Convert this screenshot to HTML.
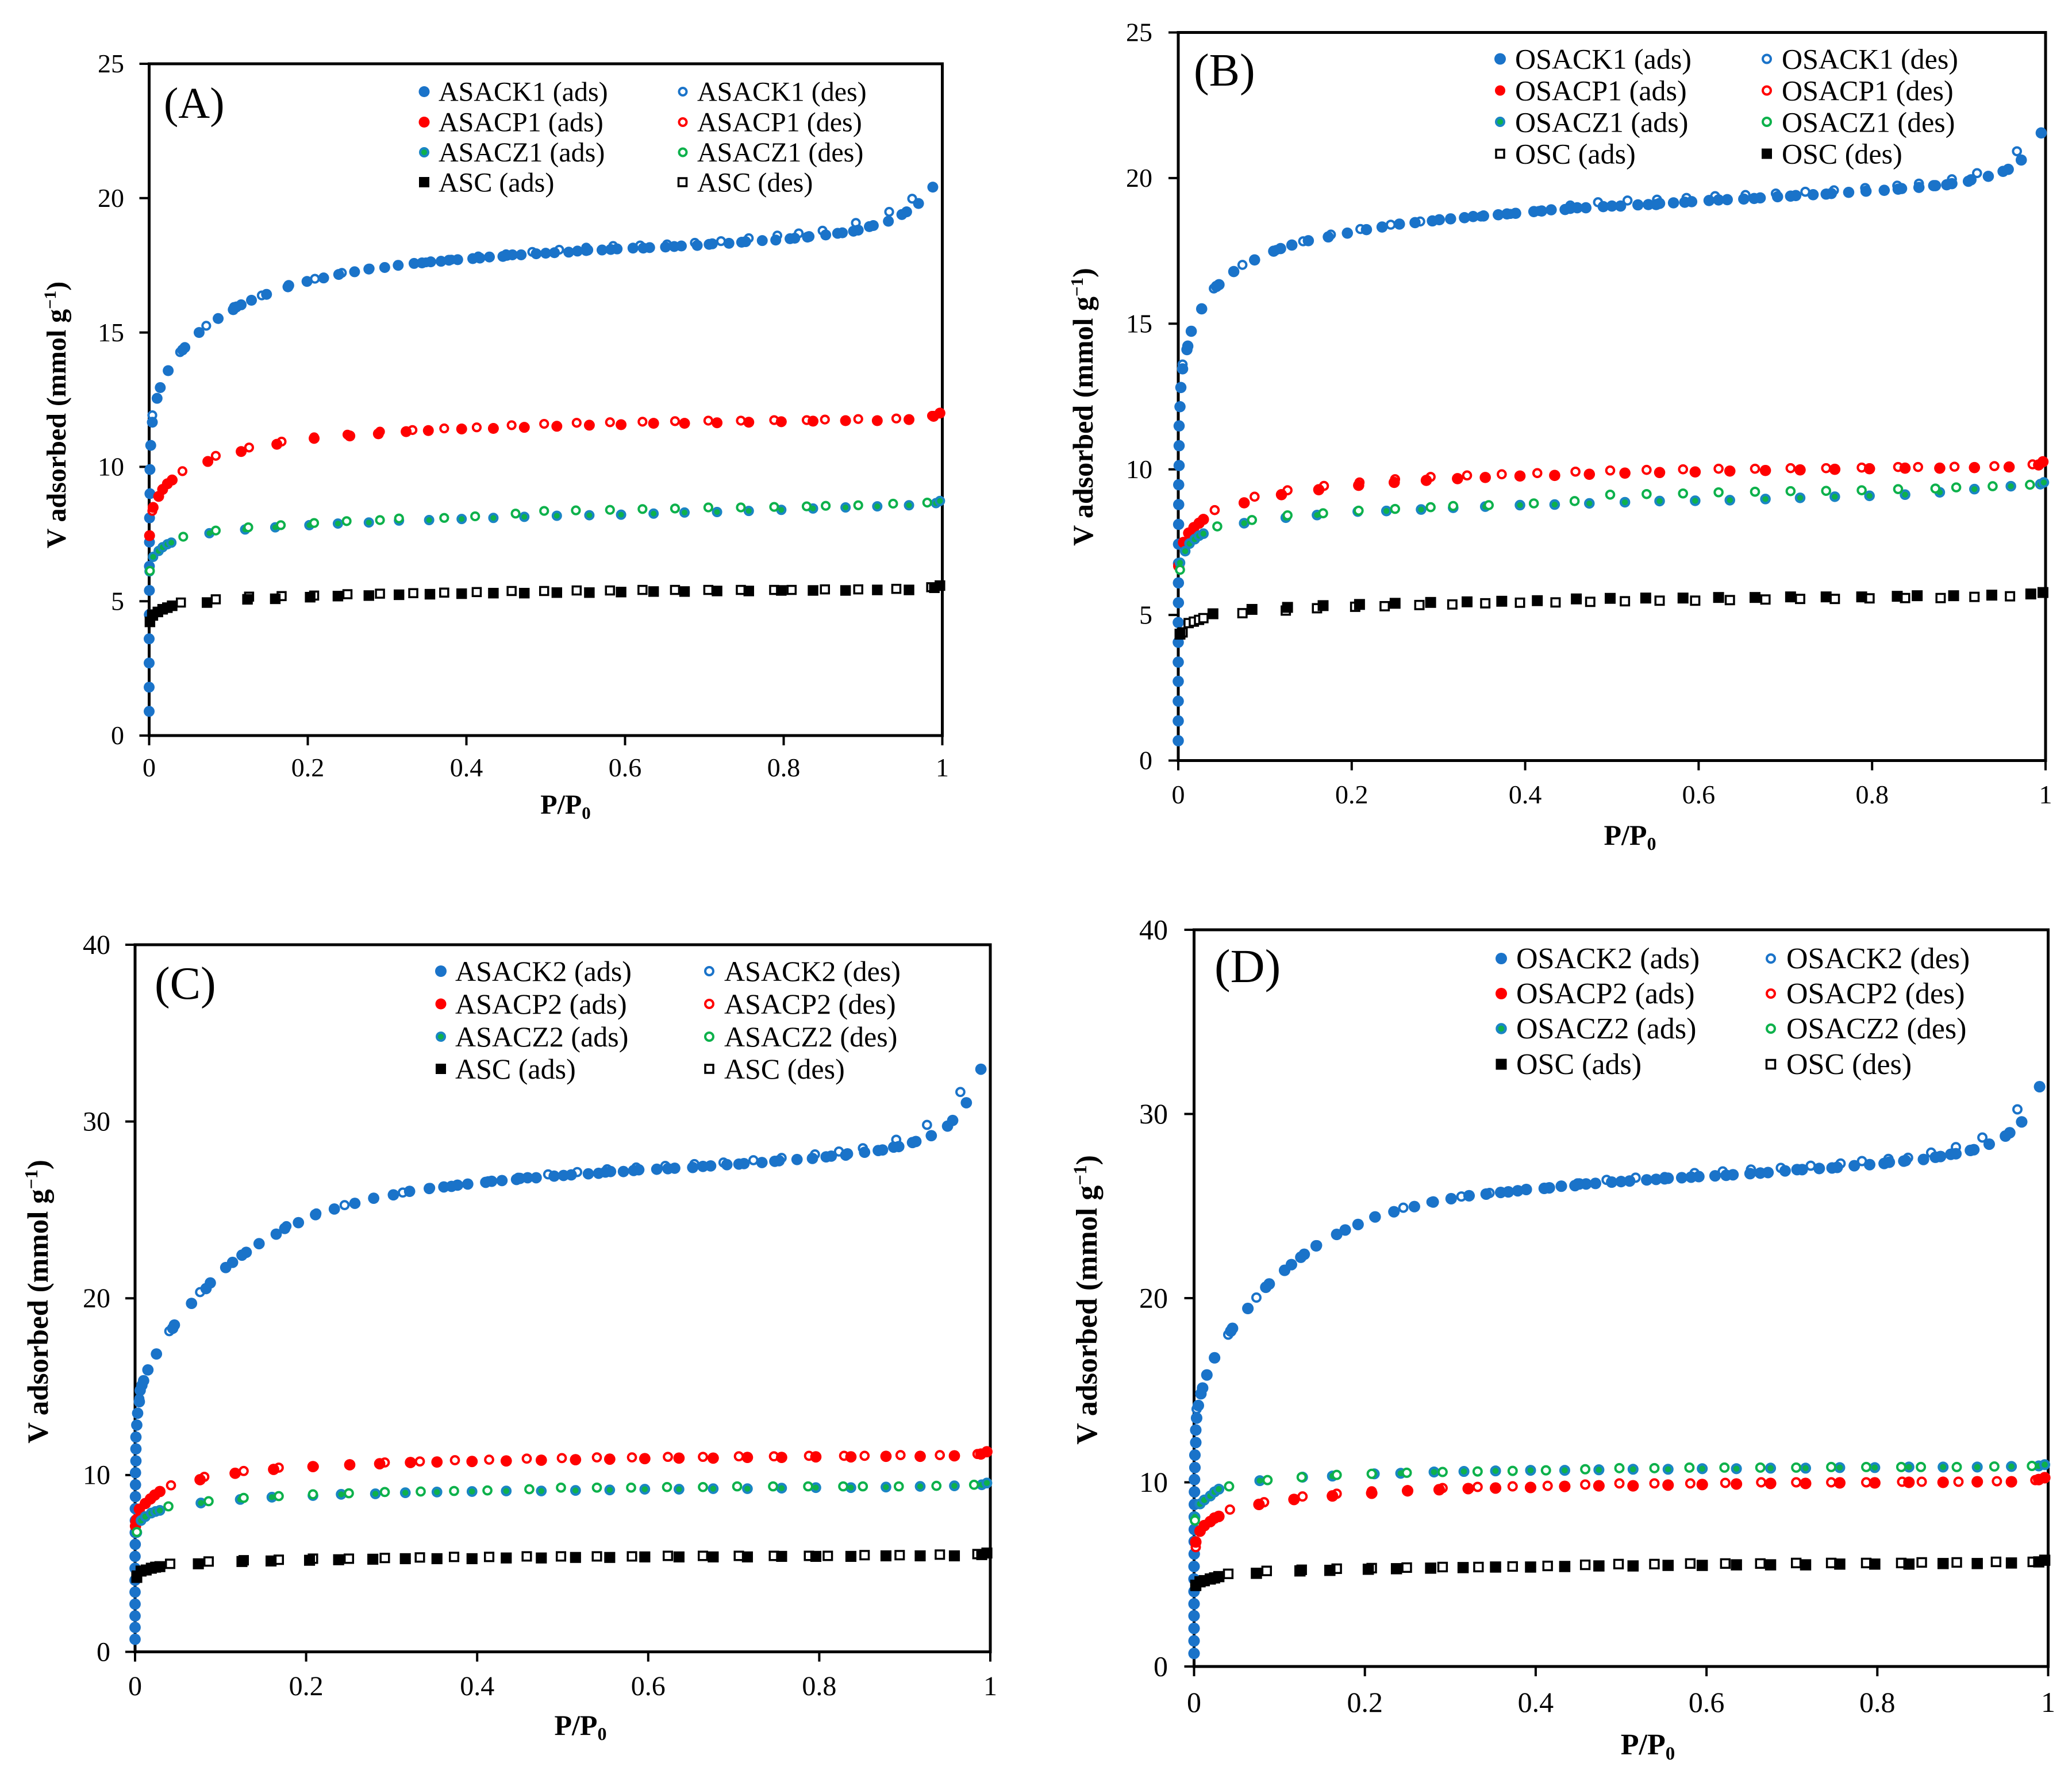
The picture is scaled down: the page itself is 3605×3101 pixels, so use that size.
<!DOCTYPE html>
<html lang="en">
<head>
<meta charset="utf-8">
<title>Nitrogen adsorption isotherms, panels A to D</title>
<style>
html,body{margin:0;padding:0;background:#fff}
svg{display:block}
text{font-family:"Liberation Serif",serif;fill:#000}
.ttl{font-weight:bold}
</style>
</head>
<body>
<svg id="figure" xmlns="http://www.w3.org/2000/svg" width="3605" height="3101" viewBox="0 0 3605 3101">
<rect x="0" y="0" width="3605" height="3101" fill="#fff"/>

<g id="panel-a">
<g id="marks-a"></g>
<text x="285" y="205" font-size="76">(A)</text>
<text class="ttl" font-size="48" text-anchor="middle" transform="translate(114 722) rotate(-90)">V adsorbed (mmol g<tspan font-size="30" dy="-17">−1</tspan><tspan dy="17">)</tspan></text>
<text class="ttl" font-size="48" text-anchor="middle" x="984" y="1416">P/P<tspan font-size="31" dy="9">0</tspan></text>
<g font-size="48">
<g><circle cx="738" cy="159.5" r="9.5" fill="#1a73c9"/><text x="763" y="175.5">ASACK1 (ads)</text></g>
<g><circle cx="1188" cy="159.5" r="6.5" fill="#fff" stroke="#1a73c9" stroke-width="4"/><text x="1213" y="175.5">ASACK1 (des)</text></g>
<g><circle cx="738" cy="212.5" r="9.5" fill="#ff0000"/><text x="763" y="228.5">ASACP1 (ads)</text></g>
<g><circle cx="1188" cy="212.5" r="6.5" fill="#fff" stroke="#ff0000" stroke-width="4"/><text x="1213" y="228.5">ASACP1 (des)</text></g>
<g><circle cx="738" cy="265" r="7" fill="#0db14b" stroke="#1a85c4" stroke-width="4"/><text x="763" y="281">ASACZ1 (ads)</text></g>
<g><circle cx="1188" cy="265" r="6.5" fill="#fff" stroke="#0db14b" stroke-width="4"/><text x="1213" y="281">ASACZ1 (des)</text></g>
<g><rect x="729" y="308" width="18" height="18" fill="#000"/><text x="763" y="333.5">ASC (ads)</text></g>
<g><rect x="1180.5" y="310" width="14" height="14" fill="#fff" stroke="#000" stroke-width="3.5"/><text x="1213" y="333.5">ASC (des)</text></g>
</g>
</g>

<g id="panel-b">
<g id="marks-b"></g>
<text x="2077" y="149" font-size="80">(B)</text>
<text class="ttl" font-size="50" text-anchor="middle" transform="translate(1901 708) rotate(-90)">V adsorbed (mmol g<tspan font-size="31" dy="-17">−1</tspan><tspan dy="17">)</tspan></text>
<text class="ttl" font-size="50" text-anchor="middle" x="2836" y="1470">P/P<tspan font-size="32" dy="9">0</tspan></text>
<g font-size="50">
<g><circle cx="2610" cy="102.5" r="10" fill="#1a73c9"/><text x="2636" y="119.5">OSACK1 (ads)</text></g>
<g><circle cx="3074" cy="102.5" r="7" fill="#fff" stroke="#1a73c9" stroke-width="4"/><text x="3100" y="119.5">OSACK1 (des)</text></g>
<g><circle cx="2610" cy="157.5" r="9" fill="#ff0000"/><text x="2636" y="174.5">OSACP1 (ads)</text></g>
<g><circle cx="3074" cy="157.5" r="7" fill="#fff" stroke="#ff0000" stroke-width="4"/><text x="3100" y="174.5">OSACP1 (des)</text></g>
<g><circle cx="2610" cy="212" r="7" fill="#0db14b" stroke="#1a85c4" stroke-width="4"/><text x="2636" y="229.5">OSACZ1 (ads)</text></g>
<g><circle cx="3074" cy="212" r="7" fill="#fff" stroke="#0db14b" stroke-width="4"/><text x="3100" y="229.5">OSACZ1 (des)</text></g>
<g><rect x="2603" y="260.5" width="14" height="14" fill="#fff" stroke="#000" stroke-width="3.5"/><text x="2636" y="284.5">OSC (ads)</text></g>
<g><rect x="3065" y="258.5" width="18" height="18" fill="#000"/><text x="3100" y="284.5">OSC (des)</text></g>
</g>
</g>

<g id="panel-c">
<g id="marks-c"></g>
<text x="269" y="1738" font-size="80">(C)</text>
<text class="ttl" font-size="51" text-anchor="middle" transform="translate(83 2265) rotate(-90)">V adsorbed (mmol g<tspan font-size="32" dy="-18">−1</tspan><tspan dy="18">)</tspan></text>
<text class="ttl" font-size="50" text-anchor="middle" x="1010" y="3019">P/P<tspan font-size="32" dy="9">0</tspan></text>
<g font-size="50">
<g><circle cx="767" cy="1690" r="10" fill="#1a73c9"/><text x="792" y="1707">ASACK2 (ads)</text></g>
<g><circle cx="1234" cy="1690" r="7" fill="#fff" stroke="#1a73c9" stroke-width="4"/><text x="1260" y="1707">ASACK2 (des)</text></g>
<g><circle cx="767" cy="1747" r="9.5" fill="#ff0000"/><text x="792" y="1764">ASACP2 (ads)</text></g>
<g><circle cx="1234" cy="1747" r="7" fill="#fff" stroke="#ff0000" stroke-width="4"/><text x="1260" y="1764">ASACP2 (des)</text></g>
<g><circle cx="767" cy="1804" r="7" fill="#0db14b" stroke="#1a85c4" stroke-width="4"/><text x="792" y="1821">ASACZ2 (ads)</text></g>
<g><circle cx="1234" cy="1804" r="7" fill="#fff" stroke="#0db14b" stroke-width="4"/><text x="1260" y="1821">ASACZ2 (des)</text></g>
<g><rect x="758" y="1851" width="18" height="18" fill="#000"/><text x="792" y="1877">ASC (ads)</text></g>
<g><rect x="1227" y="1853" width="14" height="14" fill="#fff" stroke="#000" stroke-width="3.5"/><text x="1260" y="1877">ASC (des)</text></g>
</g>
</g>

<g id="panel-d">
<g id="marks-d"></g>
<text x="2113" y="1709" font-size="83">(D)</text>
<text class="ttl" font-size="52" text-anchor="middle" transform="translate(1908 2262) rotate(-90)">V adsorbed (mmol g<tspan font-size="33" dy="-18">−1</tspan><tspan dy="18">)</tspan></text>
<text class="ttl" font-size="52" text-anchor="middle" x="2867" y="3053">P/P<tspan font-size="33" dy="9">0</tspan></text>
<g font-size="52">
<g><circle cx="2612" cy="1668" r="10" fill="#1a73c9"/><text x="2638" y="1685">OSACK2 (ads)</text></g>
<g><circle cx="3081" cy="1668" r="7" fill="#fff" stroke="#1a73c9" stroke-width="4"/><text x="3108" y="1685">OSACK2 (des)</text></g>
<g><circle cx="2612" cy="1729" r="10" fill="#ff0000"/><text x="2638" y="1746">OSACP2 (ads)</text></g>
<g><circle cx="3081" cy="1729" r="7" fill="#fff" stroke="#ff0000" stroke-width="4"/><text x="3108" y="1746">OSACP2 (des)</text></g>
<g><circle cx="2612" cy="1790" r="7.5" fill="#0db14b" stroke="#1a85c4" stroke-width="4.5"/><text x="2638" y="1807">OSACZ2 (ads)</text></g>
<g><circle cx="3081" cy="1790" r="7" fill="#fff" stroke="#0db14b" stroke-width="4"/><text x="3108" y="1807">OSACZ2 (des)</text></g>
<g><rect x="2602.5" y="1842.5" width="19" height="19" fill="#000"/><text x="2638" y="1869">OSC (ads)</text></g>
<g><rect x="3073.5" y="1844.5" width="15" height="15" fill="#fff" stroke="#000" stroke-width="3.5"/><text x="3108" y="1869">OSC (des)</text></g>
</g>
</g>
</svg>

<script>
// shared tick labels
const xTickValues = [0, 0.2, 0.4, 0.6, 0.8, 1];
const yTicks25 = [0, 5, 10, 15, 20, 25];
const yTicks40 = [0, 10, 20, 30, 40];

// ---------- Panel A ----------
const aCkAdsX = [0,0,0,0,0.0002,0.0003,0.0003,0.0004,0.0005,0.001,0.001,0.002,0.004,0.01,0.014,0.024,0.042,0.045,0.063,0.087,0.106,0.11,0.116,0.129,0.148,0.175,0.176,0.199,0.22,0.239,0.259,0.277,0.297,0.314,0.334,0.344,0.355,0.368,0.378,0.389,0.408,0.417,0.429,0.446,0.451,0.458,0.469,0.488,0.5,0.511,0.529,0.54,0.551,0.553,0.571,0.582,0.59,0.61,0.623,0.631,0.651,0.662,0.671,0.691,0.706,0.71,0.731,0.747,0.752,0.773,0.79,0.808,0.814,0.83,0.832,0.853,0.868,0.874,0.888,0.894,0.908,0.913,0.932,0.949,0.955,0.97,0.988];
const aCkAdsY = [0.9,1.8,2.7,3.6,4.5,5.4,6.3,7.2,8.1,9,9.9,10.8,11.66,12.55,12.95,13.58,14.35,14.44,15,15.52,15.85,15.95,16.03,16.2,16.42,16.7,16.75,16.9,17.03,17.16,17.26,17.36,17.42,17.5,17.57,17.59,17.63,17.65,17.69,17.71,17.75,17.77,17.81,17.83,17.87,17.89,17.89,17.93,17.95,17.97,17.99,18.03,18.05,18.07,18.07,18.09,18.11,18.14,18.14,18.16,18.18,18.2,18.22,18.24,18.28,18.3,18.32,18.36,18.38,18.42,18.44,18.49,18.51,18.55,18.57,18.63,18.69,18.71,18.77,18.81,18.94,18.98,19.14,19.39,19.49,19.8,20.41];
const aCkDesX = [0.962,0.933,0.891,0.849,0.819,0.792,0.756,0.721,0.688,0.653,0.619,0.585,0.551,0.517,0.483,0.45,0.415,0.381,0.349,0.314,0.278,0.243,0.209,0.176,0.142,0.107,0.072,0.039,0.004];
const aCkDesY = [19.98,19.49,19.08,18.79,18.69,18.61,18.51,18.4,18.34,18.28,18.24,18.22,18.16,18.08,18,17.91,17.83,17.71,17.61,17.5,17.38,17.22,17,16.75,16.38,15.95,15.25,14.27,11.92];
const aCpAdsX = [0.0005,0.005,0.012,0.017,0.023,0.029,0.074,0.116,0.161,0.208,0.253,0.289,0.324,0.352,0.394,0.434,0.473,0.514,0.555,0.595,0.636,0.675,0.716,0.756,0.797,0.837,0.878,0.918,0.958,0.989,0.997];
const aCpAdsY = [7.44,8.49,8.9,9.16,9.37,9.51,10.2,10.57,10.84,11.06,11.15,11.23,11.31,11.35,11.41,11.43,11.47,11.51,11.55,11.57,11.62,11.62,11.64,11.66,11.68,11.7,11.72,11.72,11.76,11.88,12];
const aCpDesX = [0.987,0.942,0.894,0.852,0.829,0.788,0.746,0.705,0.663,0.622,0.581,0.539,0.498,0.457,0.413,0.372,0.332,0.291,0.25,0.208,0.167,0.126,0.084,0.042,0.004];
const aCpDesY = [11.9,11.8,11.78,11.76,11.74,11.74,11.72,11.72,11.7,11.68,11.66,11.64,11.6,11.55,11.47,11.43,11.37,11.31,11.2,11.1,10.94,10.72,10.41,9.84,8.36];
const aCzAdsX = [0.0005,0.005,0.012,0.017,0.023,0.028,0.076,0.121,0.159,0.202,0.238,0.277,0.315,0.353,0.394,0.434,0.473,0.514,0.555,0.595,0.636,0.675,0.716,0.756,0.797,0.837,0.878,0.918,0.958,0.992,0.997];
const aCzAdsY = [6.11,6.65,6.87,7.01,7.12,7.18,7.53,7.67,7.75,7.83,7.89,7.93,8,8.02,8.06,8.1,8.14,8.18,8.2,8.22,8.26,8.3,8.32,8.36,8.4,8.45,8.49,8.53,8.57,8.65,8.73];
const aCzDesX = [0.981,0.938,0.894,0.853,0.829,0.788,0.746,0.705,0.663,0.622,0.581,0.538,0.498,0.462,0.411,0.372,0.315,0.291,0.249,0.208,0.166,0.125,0.084,0.043,0.001];
const aCzDesY = [8.67,8.63,8.57,8.55,8.53,8.51,8.49,8.49,8.45,8.43,8.4,8.38,8.36,8.26,8.16,8.1,8.08,8.02,7.98,7.91,7.83,7.75,7.63,7.4,6.13];
const aCAdsX = [0.001,0.004,0.011,0.017,0.023,0.029,0.073,0.124,0.159,0.203,0.238,0.277,0.315,0.354,0.394,0.434,0.473,0.514,0.555,0.595,0.636,0.675,0.716,0.756,0.797,0.837,0.878,0.918,0.958,0.99,0.997];
const aCAdsY = [4.23,4.5,4.6,4.7,4.76,4.83,4.95,5.07,5.09,5.15,5.19,5.21,5.24,5.26,5.28,5.3,5.3,5.32,5.32,5.34,5.36,5.36,5.38,5.38,5.4,5.4,5.4,5.42,5.42,5.5,5.58];
const aCDesX = [0.986,0.942,0.894,0.852,0.81,0.788,0.746,0.705,0.663,0.622,0.581,0.539,0.498,0.457,0.413,0.372,0.333,0.291,0.25,0.208,0.167,0.126,0.084,0.04,0.005];
const aCDesY = [5.52,5.46,5.44,5.44,5.42,5.42,5.42,5.42,5.42,5.42,5.4,5.4,5.38,5.38,5.34,5.32,5.3,5.28,5.26,5.21,5.19,5.17,5.07,4.95,4.46];

// ---------- Panel B ----------
const bCkAdsX = [0,0,0,0,0,0,0,0.0002,0.0002,0.0003,0.0003,0.0004,0.0005,0.0005,0.001,0.001,0.001,0.002,0.003,0.005,0.01,0.011,0.015,0.027,0.044,0.047,0.064,0.088,0.11,0.118,0.131,0.15,0.173,0.195,0.217,0.235,0.255,0.273,0.293,0.301,0.314,0.33,0.34,0.352,0.369,0.379,0.389,0.41,0.419,0.43,0.446,0.452,0.46,0.47,0.49,0.5,0.51,0.53,0.542,0.551,0.555,0.571,0.584,0.592,0.612,0.623,0.633,0.652,0.664,0.671,0.691,0.706,0.712,0.732,0.747,0.753,0.773,0.793,0.814,0.83,0.834,0.854,0.871,0.873,0.886,0.892,0.911,0.914,0.934,0.951,0.957,0.972,0.995];
const bCkAdsY = [0.68,1.36,2.04,2.72,3.38,4.06,4.74,5.42,6.1,6.77,7.43,8.11,8.79,9.47,10.13,10.81,11.49,12.15,12.81,13.45,14.11,14.23,14.74,15.51,16.28,16.34,16.79,17.19,17.49,17.58,17.7,17.85,17.98,18.11,18.23,18.32,18.42,18.47,18.53,18.57,18.6,18.64,18.68,18.7,18.74,18.77,18.79,18.85,18.87,18.91,18.92,18.96,18.98,18.98,19.02,19.04,19.04,19.08,19.09,19.09,19.13,19.15,19.17,19.19,19.23,19.25,19.26,19.28,19.3,19.32,19.36,19.38,19.4,19.43,19.45,19.47,19.51,19.55,19.58,19.62,19.64,19.68,19.74,19.74,19.77,19.81,19.89,19.94,20.06,20.23,20.3,20.62,21.55];
const bCkDesX = [0.967,0.921,0.892,0.854,0.829,0.792,0.756,0.723,0.689,0.654,0.619,0.586,0.552,0.518,0.484,0.452,0.416,0.383,0.349,0.314,0.279,0.245,0.21,0.176,0.144,0.113,0.074,0.041,0.005];
const bCkDesY = [20.92,20.17,19.96,19.81,19.74,19.66,19.58,19.53,19.47,19.42,19.38,19.32,19.26,19.23,19.17,19.06,18.87,18.77,18.68,18.6,18.51,18.4,18.25,18.06,17.83,17.53,17.02,16.21,13.6];
const bCpAdsX = [0.0005,0.006,0.012,0.018,0.024,0.029,0.076,0.119,0.162,0.208,0.249,0.286,0.322,0.354,0.394,0.434,0.474,0.515,0.555,0.596,0.636,0.677,0.717,0.757,0.797,0.838,0.878,0.918,0.958,0.992,0.997];
const bCpAdsY = [6.68,7.49,7.81,8,8.15,8.28,8.85,9.13,9.3,9.45,9.55,9.62,9.68,9.72,9.77,9.79,9.83,9.87,9.89,9.91,9.94,9.96,9.98,10,10.02,10.04,10.04,10.06,10.08,10.15,10.26];
const bCpDesX = [0.985,0.941,0.895,0.853,0.83,0.788,0.747,0.706,0.665,0.623,0.582,0.54,0.498,0.458,0.414,0.373,0.333,0.291,0.25,0.209,0.168,0.126,0.088,0.042,0.001];
const bCpDesY = [10.17,10.11,10.09,10.08,10.08,10.06,10.04,10.04,10.02,10.02,10,9.98,9.96,9.92,9.87,9.83,9.79,9.74,9.66,9.55,9.43,9.28,9.06,8.6,6.68];
const bCzAdsX = [0.002,0.008,0.013,0.019,0.024,0.029,0.076,0.124,0.16,0.207,0.24,0.28,0.317,0.354,0.394,0.434,0.474,0.515,0.555,0.596,0.636,0.677,0.717,0.757,0.797,0.838,0.878,0.918,0.96,0.994,0.998];
const bCzAdsY = [6.79,7.19,7.45,7.6,7.72,7.79,8.15,8.34,8.43,8.55,8.57,8.62,8.68,8.72,8.77,8.79,8.83,8.87,8.91,8.92,8.94,8.98,9.02,9.06,9.09,9.13,9.21,9.32,9.42,9.49,9.55];
const bCzDesX = [0.982,0.939,0.897,0.873,0.83,0.788,0.747,0.706,0.665,0.623,0.582,0.54,0.498,0.457,0.41,0.358,0.317,0.291,0.25,0.208,0.167,0.126,0.085,0.045,0.002];
const bCzDesY = [9.47,9.42,9.38,9.34,9.32,9.28,9.26,9.25,9.23,9.21,9.17,9.15,9.13,8.91,8.83,8.77,8.74,8.7,8.64,8.58,8.49,8.42,8.26,8.04,6.55];
const bCAdsX = [0.005,0.012,0.018,0.024,0.029,0.074,0.124,0.16,0.204,0.238,0.278,0.316,0.354,0.394,0.435,0.475,0.515,0.555,0.596,0.636,0.677,0.717,0.757,0.797,0.838,0.879,0.918,0.959];
const bCAdsY = [4.4,4.72,4.77,4.83,4.89,5.06,5.15,5.23,5.28,5.3,5.34,5.36,5.4,5.42,5.43,5.45,5.47,5.49,5.49,5.51,5.53,5.55,5.55,5.57,5.58,5.58,5.62,5.64];
const bCDesX = [0.997,0.983,0.938,0.894,0.852,0.829,0.788,0.747,0.706,0.665,0.623,0.582,0.539,0.498,0.459,0.414,0.373,0.333,0.291,0.25,0.209,0.167,0.126,0.085,0.04,0.002];
const bCDesY = [5.77,5.72,5.68,5.66,5.66,5.64,5.62,5.62,5.62,5.6,5.6,5.58,5.58,5.57,5.55,5.49,5.47,5.45,5.43,5.4,5.36,5.32,5.26,5.19,5.04,4.34];

// ---------- Panel C ----------
const cCkAdsX = [0,0,0,0,0,0,0,0,0.0002,0.0002,0.0003,0.0003,0.0004,0.0005,0.0005,0.001,0.001,0.001,0.002,0.003,0.005,0.006,0.008,0.01,0.015,0.025,0.044,0.046,0.066,0.083,0.088,0.106,0.114,0.125,0.13,0.145,0.165,0.175,0.191,0.211,0.233,0.257,0.279,0.302,0.321,0.344,0.361,0.37,0.377,0.389,0.41,0.417,0.429,0.446,0.45,0.459,0.469,0.49,0.501,0.51,0.53,0.542,0.55,0.556,0.571,0.583,0.589,0.61,0.623,0.631,0.652,0.664,0.673,0.692,0.706,0.712,0.733,0.748,0.753,0.774,0.792,0.808,0.814,0.831,0.833,0.853,0.869,0.874,0.887,0.893,0.909,0.913,0.931,0.95,0.956,0.972,0.989];
const cCkAdsY = [0.71,1.38,2.03,2.7,3.38,4.05,4.73,5.4,6.08,6.75,7.43,8.1,8.78,9.45,10.13,10.8,11.48,12.15,12.83,13.5,14.15,14.79,15.08,15.34,15.95,16.85,18.3,18.49,19.71,20.55,20.87,21.74,22.03,22.44,22.6,23.09,23.63,23.95,24.28,24.73,25.05,25.37,25.66,25.85,26.05,26.21,26.3,26.33,26.4,26.46,26.56,26.62,26.66,26.72,26.78,26.82,26.82,26.91,26.95,26.98,27.04,27.07,27.14,27.17,27.17,27.23,27.27,27.3,27.33,27.36,27.4,27.46,27.49,27.56,27.59,27.62,27.68,27.75,27.78,27.85,27.91,28,28.04,28.1,28.17,28.26,28.36,28.39,28.55,28.58,28.81,28.87,29.2,29.74,30.06,31.06,32.96];
const cCkDesX = [0.965,0.926,0.89,0.851,0.823,0.795,0.756,0.723,0.688,0.654,0.62,0.586,0.552,0.517,0.483,0.448,0.413,0.378,0.345,0.313,0.279,0.245,0.212,0.177,0.145,0.114,0.076,0.04,0.005];
const cCkDesY = [31.67,29.81,28.97,28.49,28.3,28.14,27.94,27.81,27.68,27.59,27.49,27.4,27.3,27.14,27.01,26.82,26.62,26.4,26.24,25.98,25.66,25.27,24.8,24.08,23.12,22.03,20.35,18.14,14.31];
const cCpAdsX = [0.0005,0.002,0.005,0.012,0.018,0.023,0.029,0.076,0.117,0.162,0.208,0.251,0.286,0.322,0.353,0.394,0.434,0.475,0.515,0.555,0.596,0.636,0.676,0.716,0.756,0.796,0.837,0.878,0.918,0.958,0.989,0.996];
const cCpAdsY = [7.11,7.49,8.07,8.39,8.65,8.87,9.07,9.74,10.1,10.32,10.48,10.58,10.64,10.71,10.74,10.77,10.8,10.84,10.87,10.9,10.93,10.96,10.96,11,11,11.03,11.03,11.06,11.06,11.09,11.19,11.32];
const cCpDesX = [0.985,0.941,0.895,0.853,0.829,0.788,0.747,0.706,0.664,0.623,0.581,0.54,0.499,0.458,0.414,0.374,0.333,0.292,0.251,0.209,0.168,0.127,0.081,0.042,0.0003];
const cCpDesY = [11.19,11.13,11.13,11.09,11.09,11.09,11.06,11.06,11.03,11.03,11,11,10.96,10.93,10.87,10.84,10.77,10.71,10.61,10.48,10.42,10.23,9.9,9.42,7.36];
const cCzAdsX = [0.002,0.007,0.012,0.019,0.024,0.029,0.077,0.123,0.16,0.208,0.241,0.281,0.316,0.353,0.394,0.434,0.475,0.515,0.555,0.596,0.636,0.676,0.716,0.756,0.796,0.837,0.878,0.918,0.958,0.99,0.996];
const cCzAdsY = [6.75,7.43,7.65,7.85,7.94,8,8.42,8.62,8.75,8.84,8.91,8.94,9,9.04,9.07,9.1,9.1,9.13,9.16,9.2,9.2,9.23,9.23,9.26,9.29,9.29,9.32,9.36,9.39,9.45,9.55];
const cCzDesX = [0.981,0.937,0.893,0.851,0.828,0.787,0.746,0.704,0.664,0.622,0.58,0.54,0.498,0.461,0.412,0.373,0.334,0.292,0.25,0.208,0.168,0.127,0.086,0.039,0.002];
const cCzDesY = [9.45,9.39,9.36,9.36,9.36,9.36,9.36,9.36,9.32,9.32,9.29,9.29,9.29,9.2,9.13,9.1,9.07,9.04,8.97,8.91,8.81,8.71,8.52,8.23,6.78];
const cCAdsX = [0.002,0.007,0.013,0.019,0.024,0.029,0.074,0.125,0.159,0.204,0.238,0.278,0.316,0.353,0.394,0.434,0.475,0.515,0.555,0.596,0.636,0.676,0.716,0.756,0.796,0.837,0.878,0.918,0.958,0.99,0.996];
const cCAdsY = [4.21,4.57,4.63,4.73,4.79,4.82,4.98,5.11,5.14,5.18,5.21,5.24,5.27,5.27,5.27,5.31,5.31,5.34,5.34,5.37,5.37,5.37,5.37,5.4,5.4,5.4,5.43,5.43,5.43,5.5,5.59];
const cCDesX = [0.985,0.941,0.894,0.853,0.81,0.788,0.747,0.706,0.664,0.623,0.581,0.54,0.498,0.458,0.414,0.373,0.333,0.292,0.25,0.208,0.168,0.127,0.086,0.041,0.002];
const cCDesY = [5.53,5.5,5.47,5.47,5.43,5.43,5.43,5.43,5.43,5.43,5.4,5.4,5.4,5.4,5.37,5.37,5.34,5.31,5.27,5.27,5.21,5.18,5.11,4.98,4.31];

// ---------- Panel D ----------
const dCkAdsX = [0,0,0,0,0,0,0,0,0.0002,0.0002,0.0003,0.0003,0.0004,0.0005,0.0005,0.001,0.001,0.002,0.002,0.003,0.005,0.008,0.01,0.015,0.024,0.043,0.045,0.063,0.084,0.088,0.106,0.114,0.125,0.129,0.143,0.167,0.177,0.192,0.212,0.234,0.258,0.28,0.301,0.322,0.342,0.359,0.368,0.379,0.389,0.41,0.416,0.43,0.446,0.451,0.459,0.47,0.489,0.5,0.51,0.53,0.541,0.551,0.555,0.571,0.582,0.591,0.61,0.623,0.631,0.651,0.663,0.672,0.692,0.706,0.712,0.732,0.747,0.753,0.773,0.791,0.808,0.814,0.831,0.833,0.854,0.868,0.874,0.886,0.892,0.909,0.913,0.931,0.95,0.955,0.969,0.99];
const dCkAdsY = [0.71,1.39,2.07,2.75,3.4,4.07,4.75,5.43,6.11,6.79,7.44,8.12,8.8,9.48,10.15,10.8,11.48,12.16,12.84,13.49,14.17,14.81,15.12,15.83,16.76,18.21,18.36,19.44,20.59,20.77,21.51,21.82,22.22,22.38,22.84,23.46,23.7,24,24.41,24.69,24.97,25.22,25.4,25.56,25.65,25.74,25.77,25.83,25.9,25.96,25.99,26.08,26.11,26.2,26.2,26.23,26.3,26.33,26.36,26.42,26.45,26.48,26.51,26.54,26.57,26.6,26.64,26.67,26.7,26.76,26.79,26.82,26.91,26.98,26.98,27.04,27.07,27.1,27.19,27.25,27.31,27.38,27.44,27.47,27.53,27.65,27.69,27.81,27.84,28.02,28.06,28.36,28.8,28.98,29.57,31.48];
const dCkDesX = [0.964,0.923,0.892,0.863,0.836,0.813,0.782,0.757,0.722,0.687,0.652,0.619,0.586,0.551,0.517,0.483,0.449,0.414,0.38,0.346,0.313,0.278,0.245,0.211,0.177,0.144,0.114,0.073,0.04,0.003];
const dCkDesY = [30.25,28.72,28.2,27.9,27.62,27.56,27.44,27.31,27.19,27.07,26.98,26.88,26.79,26.57,26.54,26.42,26.23,25.99,25.83,25.71,25.52,25.22,24.91,24.41,23.7,22.87,21.82,20.03,18.02,13.98];
const dCpAdsX = [0.002,0.007,0.012,0.019,0.024,0.029,0.076,0.117,0.162,0.208,0.25,0.287,0.321,0.353,0.394,0.434,0.474,0.514,0.555,0.595,0.635,0.675,0.716,0.756,0.797,0.837,0.877,0.917,0.957,0.989,0.996];
const dCpAdsY = [6.76,7.35,7.65,7.87,8.06,8.15,8.8,9.07,9.26,9.41,9.54,9.6,9.66,9.69,9.72,9.78,9.81,9.81,9.85,9.88,9.91,9.94,9.94,9.97,9.97,10,10,10.03,10.03,10.15,10.25];
const dCpDesX = [0.985,0.94,0.895,0.852,0.829,0.787,0.746,0.705,0.664,0.622,0.581,0.539,0.498,0.458,0.414,0.373,0.332,0.291,0.25,0.208,0.167,0.127,0.082,0.042,0.002];
const dCpDesY = [10.12,10.06,10.03,10.03,10.03,10,10,10,10,9.97,9.94,9.94,9.94,9.88,9.81,9.78,9.75,9.69,9.57,9.51,9.38,9.23,8.92,8.52,6.48];
const dCzAdsX = [0.001,0.007,0.012,0.019,0.024,0.029,0.077,0.127,0.162,0.211,0.242,0.281,0.316,0.353,0.394,0.434,0.474,0.514,0.555,0.595,0.635,0.675,0.716,0.756,0.797,0.837,0.877,0.917,0.957,0.989,0.996];
const dCzAdsY = [8.12,8.83,9.04,9.26,9.48,9.63,10.09,10.28,10.34,10.46,10.49,10.56,10.59,10.62,10.65,10.65,10.68,10.71,10.71,10.74,10.74,10.77,10.77,10.8,10.8,10.83,10.83,10.83,10.86,10.89,10.96];
const dCzDesX = [0.981,0.937,0.893,0.851,0.828,0.787,0.746,0.705,0.663,0.621,0.58,0.539,0.498,0.458,0.412,0.373,0.332,0.291,0.249,0.208,0.167,0.126,0.086,0.041,0.001];
const dCzDesY = [10.89,10.86,10.83,10.83,10.83,10.83,10.83,10.8,10.8,10.8,10.8,10.77,10.77,10.71,10.65,10.62,10.59,10.56,10.52,10.46,10.4,10.28,10.12,9.78,7.93];
const dCAdsX = [0.002,0.007,0.012,0.019,0.024,0.029,0.073,0.124,0.159,0.204,0.237,0.277,0.315,0.353,0.394,0.434,0.474,0.514,0.555,0.595,0.635,0.675,0.716,0.756,0.797,0.837,0.877,0.917,0.957,0.989,0.996];
const dCAdsY = [4.41,4.6,4.66,4.75,4.81,4.88,5.06,5.19,5.22,5.28,5.31,5.34,5.37,5.4,5.4,5.43,5.46,5.46,5.49,5.49,5.52,5.52,5.52,5.56,5.56,5.56,5.59,5.59,5.62,5.68,5.77];
const dCDesX = [0.982,0.939,0.893,0.852,0.828,0.787,0.746,0.705,0.663,0.622,0.581,0.539,0.497,0.458,0.414,0.373,0.333,0.291,0.249,0.208,0.167,0.126,0.085,0.04,0.002];
const dCDesY = [5.68,5.68,5.65,5.65,5.62,5.62,5.62,5.62,5.59,5.59,5.59,5.56,5.56,5.52,5.46,5.43,5.4,5.4,5.37,5.34,5.31,5.25,5.19,5.03,4.38];

const NS = 'http://www.w3.org/2000/svg';
const BLUE = '#1a73c9', RED = '#ff0000', GREEN = '#0db14b', RINGBLUE = '#1a85c4';

function create(tag, attrs, parent) {
  const el = document.createElementNS(NS, tag);
  for (const k in attrs) el.setAttribute(k, attrs[k]);
  parent.appendChild(el);
  return el;
}

function drawMarker(kind, color, px, py, ms, parent) {
  let el;
  if (kind === 'disc') el = create('circle', {cx: px, cy: py, r: 9.5 * ms, fill: color}, parent);
  else if (kind === 'ring') el = create('circle', {cx: px, cy: py, r: 6.6 * ms, fill: '#fff', stroke: color, 'stroke-width': 4}, parent);
  else if (kind === 'dual') el = create('circle', {cx: px, cy: py, r: 7 * ms, fill: GREEN, stroke: RINGBLUE, 'stroke-width': 4 * ms}, parent);
  else if (kind === 'square') el = create('rect', {x: px - 9.2 * ms, y: py - 9.2 * ms, width: 18.4 * ms, height: 18.4 * ms, fill: '#000'}, parent);
  else el = create('rect', {x: px - 7 * ms, y: py - 7 * ms, width: 14 * ms, height: 14 * ms, fill: '#fff', stroke: '#000', 'stroke-width': 3.5}, parent);
  return el;
}

function drawPanel(p) {
  const parent = document.getElementById(p.id);
  const sx = v => p.left + v * (p.right - p.left);
  const sy = v => p.bottom - (v / p.yMax) * (p.bottom - p.top);

  p.yTicks.forEach(t => {
    const tick = create('line', {x1: p.left - 17, x2: p.left, y1: sy(t), y2: sy(t), stroke: '#000', 'stroke-width': 4}, parent);
    
    
    const lab = create('text', {x: p.yLabelX, y: sy(t) + p.fs * 0.33, 'font-size': p.fs, 'text-anchor': 'end'}, parent);
    lab.textContent = String(t);
    
    
  });
  xTickValues.forEach(t => {
    const tick = create('line', {x1: sx(t), x2: sx(t), y1: p.bottom, y2: p.bottom + 17, stroke: '#000', 'stroke-width': 4}, parent);
    
    
    const lab = create('text', {x: sx(t), y: p.xLabelY, 'font-size': p.fs, 'text-anchor': 'middle'}, parent);
    lab.textContent = String(t);
    
    
  });

  const frame = create('rect', {x: p.left, y: p.top, width: p.right - p.left, height: p.bottom - p.top, fill: 'none', stroke: '#000', 'stroke-width': 5}, parent);
  
  

  p.series.forEach(s => {
    const g = create('g', {}, parent);
    
    
    s.x.forEach((xv, i) => {
      const m = drawMarker(s.kind, s.color, sx(xv), sy(s.y[i]), p.ms, g);
      
      
    });
  });
}

drawPanel({id: 'marks-a', left: 259.5, right: 1639.5, top: 111, bottom: 1280, yMax: 25, yTicks: yTicks25, yLabelX: 216, xLabelY: 1351, fs: 46, ms: 1,
  series: [
    {name: 'asack1-des', x: aCkDesX, y: aCkDesY, kind: 'ring', color: BLUE},
    {name: 'asack1-ads', x: aCkAdsX, y: aCkAdsY, kind: 'disc', color: BLUE},
    {name: 'asacp1-des', x: aCpDesX, y: aCpDesY, kind: 'ring', color: RED},
    {name: 'asacp1-ads', x: aCpAdsX, y: aCpAdsY, kind: 'disc', color: RED},
    {name: 'asacz1-ads', x: aCzAdsX, y: aCzAdsY, kind: 'dual', color: GREEN},
    {name: 'asacz1-des', x: aCzDesX, y: aCzDesY, kind: 'ring', color: GREEN},
    {name: 'asc-des', x: aCDesX, y: aCDesY, kind: 'open', color: '#000'},
    {name: 'asc-ads', x: aCAdsX, y: aCAdsY, kind: 'square', color: '#000'}
  ]});
drawPanel({id: 'marks-b', left: 2050, right: 3559, top: 56.5, bottom: 1323.5, yMax: 25, yTicks: yTicks25, yLabelX: 2005, xLabelY: 1398, fs: 46, ms: 1.03,
  series: [
    {name: 'osack1-des', x: bCkDesX, y: bCkDesY, kind: 'ring', color: BLUE},
    {name: 'osack1-ads', x: bCkAdsX, y: bCkAdsY, kind: 'disc', color: BLUE},
    {name: 'osacp1-des', x: bCpDesX, y: bCpDesY, kind: 'ring', color: RED},
    {name: 'osacp1-ads', x: bCpAdsX, y: bCpAdsY, kind: 'disc', color: RED},
    {name: 'osacz1-ads', x: bCzAdsX, y: bCzAdsY, kind: 'dual', color: GREEN},
    {name: 'osacz1-des', x: bCzDesX, y: bCzDesY, kind: 'ring', color: GREEN},
    {name: 'osc-ads', x: bCAdsX, y: bCAdsY, kind: 'open', color: '#000'},
    {name: 'osc-des', x: bCDesX, y: bCDesY, kind: 'square', color: '#000'}
  ]});
drawPanel({id: 'marks-c', left: 235, right: 1723, top: 1644, bottom: 2874.5, yMax: 40, yTicks: yTicks40, yLabelX: 192, xLabelY: 2950, fs: 48, ms: 1.04,
  series: [
    {name: 'asack2-des', x: cCkDesX, y: cCkDesY, kind: 'ring', color: BLUE},
    {name: 'asack2-ads', x: cCkAdsX, y: cCkAdsY, kind: 'disc', color: BLUE},
    {name: 'asacp2-des', x: cCpDesX, y: cCpDesY, kind: 'ring', color: RED},
    {name: 'asacp2-ads', x: cCpAdsX, y: cCpAdsY, kind: 'disc', color: RED},
    {name: 'asacz2-ads', x: cCzAdsX, y: cCzAdsY, kind: 'dual', color: GREEN},
    {name: 'asacz2-des', x: cCzDesX, y: cCzDesY, kind: 'ring', color: GREEN},
    {name: 'asc-des', x: cCDesX, y: cCDesY, kind: 'open', color: '#000'},
    {name: 'asc-ads', x: cCAdsX, y: cCAdsY, kind: 'square', color: '#000'}
  ]});
drawPanel({id: 'marks-d', left: 2077.5, right: 3563.5, top: 1618, bottom: 2900, yMax: 40, yTicks: yTicks40, yLabelX: 2032, xLabelY: 2979, fs: 50, ms: 1.06,
  series: [
    {name: 'osack2-des', x: dCkDesX, y: dCkDesY, kind: 'ring', color: BLUE},
    {name: 'osack2-ads', x: dCkAdsX, y: dCkAdsY, kind: 'disc', color: BLUE},
    {name: 'osacp2-des', x: dCpDesX, y: dCpDesY, kind: 'ring', color: RED},
    {name: 'osacp2-ads', x: dCpAdsX, y: dCpAdsY, kind: 'disc', color: RED},
    {name: 'osacz2-ads', x: dCzAdsX, y: dCzAdsY, kind: 'dual', color: GREEN},
    {name: 'osacz2-des', x: dCzDesX, y: dCzDesY, kind: 'ring', color: GREEN},
    {name: 'osc-des', x: dCDesX, y: dCDesY, kind: 'open', color: '#000'},
    {name: 'osc-ads', x: dCAdsX, y: dCAdsY, kind: 'square', color: '#000'}
  ]});
</script>
</body>
</html>
